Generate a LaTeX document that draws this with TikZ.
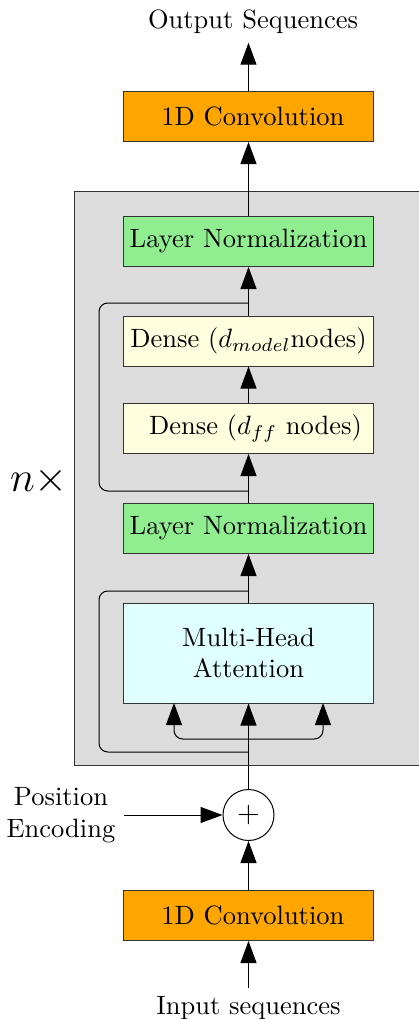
\RequirePackage{fix-cm}
\documentclass[tikz,border=0pt]{standalone}
\usetikzlibrary{arrows.meta}
\definecolor{convorange}{RGB}{255,165,0}
\definecolor{normgreen}{RGB}{144,238,144}
\definecolor{densecol}{RGB}{255,255,224}
\definecolor{attncol}{RGB}{224,255,255}
\definecolor{stackgray}{RGB}{220,220,220}
\tikzset{
  block/.style={draw=black!80, minimum width=99.6pt, minimum height=20pt, inner sep=2pt},
  conv/.style={block, fill=convorange},
  norm/.style={block, fill=normgreen},
  dense/.style={block, fill=densecol},
  attn/.style={block, fill=attncol, minimum height=40pt, align=center},
  add/.style={draw, circle, fill=white, minimum size=20.4pt, inner sep=0pt, font=\large},
}
\begin{document}
\begin{tikzpicture}[x=0.4pt,y=-0.4pt,>={Triangle[length=8.8pt,width=6.4pt]},
    every node/.append style={font=\fontsize{10.6}{12.7}\selectfont}]
      \clip (0,0) rectangle (419,1019);
      \draw[draw=black!80, fill=stackgray] (74,191) rectangle (440,765);
      \node (out) at (253,22) {Output Sequences};
      \node[conv] (conv2) at (248.5,116.5) {~1D Convolution};
      \node[norm] (norm2) at (248.5,241.5) {Layer Normalization};
      \node[dense] (dmodel) at (248.5,341) {Dense ($d_{model}$nodes)};
      \node[dense] (dff) at (248.5,428.5) {\hspace{5.6pt}Dense ($d_{ff}$ nodes)};
      \node[norm] (norm1) at (248.5,528.5) {Layer Normalization};
      \node[attn] (mha) at (248.5,653) {Multi-Head\\Attention};
      \node[add] (plus) at (248.5,815) {$+$};
      \node[align=center] (pos) at (61,815) {Position\\Encoding};
      \node[conv] (conv1) at (248.5,915.5) {~1D Convolution};
      \node (in) at (248.5,1008) {Input sequences};
      \node[font=\fontsize{17}{20}\selectfont] (rep) at (39,481) {$n\times$};
      \coordinate (skipA) at (248.5,491);
      \coordinate (skipB) at (248.5,303);
      \coordinate (skipC) at (248.5,752);
      \coordinate (skipD) at (248.5,591);
      \coordinate (fork) at (248.5,739);
      \coordinate (qin) at (174,703);
      \coordinate (vin) at (323,703);
      \begin{scope}[->]
        \draw (conv2.north) -- (conv2.north |- out.south);
        \draw (norm2) -- (conv2);
        \draw (dmodel) -- (norm2);
        \draw (dff) -- (dmodel);
        \draw (norm1) -- (dff);
        \draw (mha) -- (norm1);
        \draw (plus) -- (mha);
        \draw (conv1) -- (plus);
        \draw (in) -- (conv1);
        \draw (pos) -- (plus);
        \draw[rounded corners=3.5pt] (fork) -| (qin);
        \draw[rounded corners=3.5pt] (fork) -| (vin);
      \end{scope}
      \draw[rounded corners=3.5pt] (skipA) -- ++(-149.5,0) |- (skipB);
      \draw[rounded corners=3.5pt] (skipC) -- ++(-149.5,0) |- (skipD);
    \end{tikzpicture}
\end{document}
